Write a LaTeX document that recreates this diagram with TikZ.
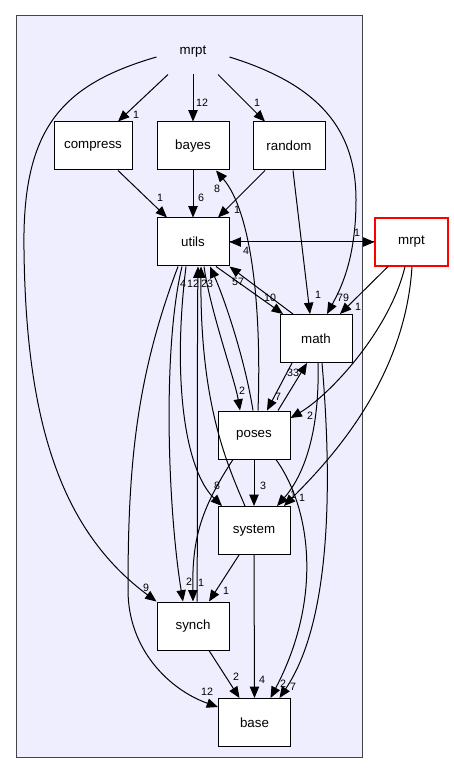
\documentclass[tikz,border=0pt]{standalone}
\usepackage{fontspec}
\setmainfont{Liberation Sans}
\usetikzlibrary{arrows.meta,calc}
\definecolor{folderbg}{HTML}{EEEEFF}
\definecolor{folderline}{HTML}{444444}
\tikzstyle{subdir}=[draw=black, fill=white, line width=0.75pt, minimum width=54pt, minimum height=36pt, inner sep=0pt, font=\fontsize{10}{12}\selectfont]
\tikzstyle{extdir}=[subdir, draw=red, line width=0.85pt]
\tikzstyle{dep}=[line width=0.75pt, -{Triangle[length=8.5pt,width=7pt]}]
\tikzstyle{deplabel}=[inner sep=0pt, font=\fontsize{8}{9}\selectfont]

\begin{document}
\begin{tikzpicture}[x = 0.75pt, y = -0.75pt]
\useasboundingbox (0,0) rectangle (453,773);
% Folder
    \draw[fill=folderbg, draw=folderline, line width=0.75pt] (16,16) rectangle (362,757);
    \node[subdir, draw=none, fill=none] (top) at (193,52) {mrpt};
% Sub-folders
    \node[subdir, minimum width=58.5pt] (compress) at (93,146) {compress};
    \node[subdir] (bayes)  at (193,146) {bayes};
    \node[subdir] (random) at (289,146) {random};
    \node[subdir] (utils)  at (193,242) {utils};
    \node[subdir] (math)   at (316,338.5) {math};
    \node[subdir] (poses)  at (254,435) {poses};
    \node[subdir] (system) at (254,530.5) {system};
    \node[subdir] (synch)  at (193,626) {synch};
    \node[subdir] (base)   at (254.5,722.5) {base};
    \node[extdir, minimum width=54.75pt] (mrpt) at (411.5,242) {mrpt};
% From the folder itself
    \draw[dep] ($(top.south)+(-25,-2)$) -- ($(compress.north)+(25,0)$);
    \draw[dep] ($(top.south)+(0,-2)$) -- (bayes.north);
    \draw[dep] ($(top.south)+(25,-2)$) -- ($(random.north)+(-24,0)$);
    \draw[dep] ($(top.west)+(0,5)$) .. controls (60,85) and (22,130) .. (24,250)
        .. controls (26,420) and (60,530) .. (synch.north west);
    \draw[dep] ($(top.east)+(0,5)$) .. controls (320,85) and (356,130) .. (356,200)
        .. controls (356,260) and (340,290) .. ($(math.north)+(11,0)$);
% Top row into utils and math
    \draw[dep] ($(compress.south)+(25,0)$) -- ($(utils.north)+(-26,0)$);
    \draw[dep] (bayes.south) -- (utils.north);
    \draw[dep] ($(random.south)+(-24,0)$) -- ($(utils.north)+(25,0)$);
    \draw[dep] ($(random.south)+(4,0)$) .. controls (300,230) and (306,280) .. ($(math.north)+(-6,0)$);
% utils and the outer mrpt
    \draw[dep] (utils.east) -- (mrpt.west);
    \draw[dep] (mrpt.west) -- (utils.east);
% utils and math
    \draw[dep] ($(utils.south)+(23,0)$) -- ($(math.north)+(-33,0)$);
    \draw[dep] ($(math.north)+(-23,0)$) -- (utils.south east);
% utils downwards
    \draw[dep] ($(utils.south)+(11,0)$) .. controls (210,310) and (235,380) .. ($(poses.north)+(-14,0)$);
    \draw[dep] ($(utils.south)+(-11,0)$) .. controls (162,350) and (168,510) .. ($(synch.north)+(-10,0)$);
    \draw[dep] ($(utils.south)+(-7,0)$) .. controls (172,380) and (185,470) .. ($(system.north)+(-32,0)$);
    \draw[dep] ($(utils.south)+(-15,0)$) .. controls (135,380) and (128,470) .. (128,590)
        .. controls (128,650) and (170,690) .. ($(base.north west)+(0,9)$);
% Back up into utils
    \draw[dep] ($(poses.north)+(-1,0)$) .. controls (245,360) and (225,300) .. ($(utils.south)+(17,0)$);
    \draw[dep] ($(synch.north)+(4,0)$) .. controls (198,450) and (197,350) .. ($(utils.south)+(5,0)$);
    \draw[dep] ($(system.north)+(-9,0)$) .. controls (225,460) and (200,400) .. ($(utils.south)+(8,0)$);
    \draw[dep] ($(poses.north)+(4,0)$) .. controls (262,300) and (250,210) .. ($(bayes.south)+(23,0)$);
% math and poses
    \draw[dep] ($(math.south)+(-24,0)$) -- ($(poses.north)+(13,0)$);
    \draw[dep] ($(poses.north)+(24,0)$) -- ($(math.south)+(-9,0)$);
    \draw[dep] ($(math.south)+(2,0)$) .. controls (320,440) and (300,480) .. ($(system.north)+(23,0)$);
    \draw[dep] ($(math.south)+(6,0)$) .. controls (332,480) and (332,620) .. ($(base.north)+(25,0)$);
% Outer mrpt downwards
    \draw[dep] ($(mrpt.south)+(-23.5,0)$) -- ($(math.north)+(24,0)$);
    \draw[dep] ($(mrpt.south)+(-6.5,0)$) .. controls (390,330) and (330,395) .. ($(poses.east)+(0,-17)$);
    \draw[dep] ($(mrpt.south)+(0.5,0)$) .. controls (405,380) and (330,460) .. ($(system.north)+(30,0)$);
% poses, system, synch into base
    \draw[dep] ($(poses.south)+(-21,0)$) .. controls (200,510) and (192,540) .. (synch.north);
    \draw[dep] (poses.south) -- (system.north);
    \draw[dep] ($(poses.south)+(22,0)$) .. controls (312,510) and (322,600) .. ($(base.north)+(16,0)$);
    \draw[dep] ($(system.south)+(-15,0)$) -- ($(synch.north)+(16,0)$);
    \draw[dep] (system.south) -- (base.north);
    \draw[dep] ($(synch.south)+(16,0)$) -- ($(base.north)+(-15,0)$);
% Counts
    \node[deplabel] (n1)  at (136,115) {1};
    \node[deplabel] (n2)  at (202,103) {12};
    \node[deplabel] (n3)  at (257,103) {1};
    \node[deplabel] (n4)  at (146,588) {9};
    \node[deplabel] (n5)  at (343,298) {79};
    \node[deplabel] (n6)  at (160,198) {1};
    \node[deplabel] (n7)  at (201,198) {6};
    \node[deplabel] (n8)  at (237,210) {1};
    \node[deplabel] (n9)  at (318,295) {1};
    \node[deplabel] (n10) at (217,189) {8};
    \node[deplabel] (n11) at (357,233) {1};
    \node[deplabel] (n12) at (246,251) {4};
    \node[deplabel] (n13) at (270,298) {10};
    \node[deplabel] (n14) at (238,282) {57};
    \node[deplabel] (n15) at (242,391) {2};
    \node[deplabel] (n16) at (207,284) {23};
    \node[deplabel] (n17) at (183,284) {4};
    \node[deplabel] (n18) at (193,284) {12};
    \node[deplabel] (n19) at (189,582) {2};
    \node[deplabel] (n20) at (217,486) {8};
    \node[deplabel] (n21) at (207,692) {12};
    \node[deplabel] (n22) at (201,583) {1};
    \node[deplabel] (n23) at (263,486) {3};
    \node[deplabel] (n24) at (283,684) {2};
    \node[deplabel] (n25) at (278,397) {7};
    \node[deplabel] (n26) at (293,373) {33};
    \node[deplabel] (n27) at (293,495) {1};
    \node[deplabel] (n28) at (293,687) {7};
    \node[deplabel] (n29) at (358,307) {1};
    \node[deplabel] (n30) at (310,416) {2};
    \node[deplabel] (n31) at (302,498) {1};
    \node[deplabel] (n32) at (226,591) {1};
    \node[deplabel] (n33) at (262,680) {4};
    \node[deplabel] (n34) at (236,677) {2};
\end{tikzpicture}
\end{document}
